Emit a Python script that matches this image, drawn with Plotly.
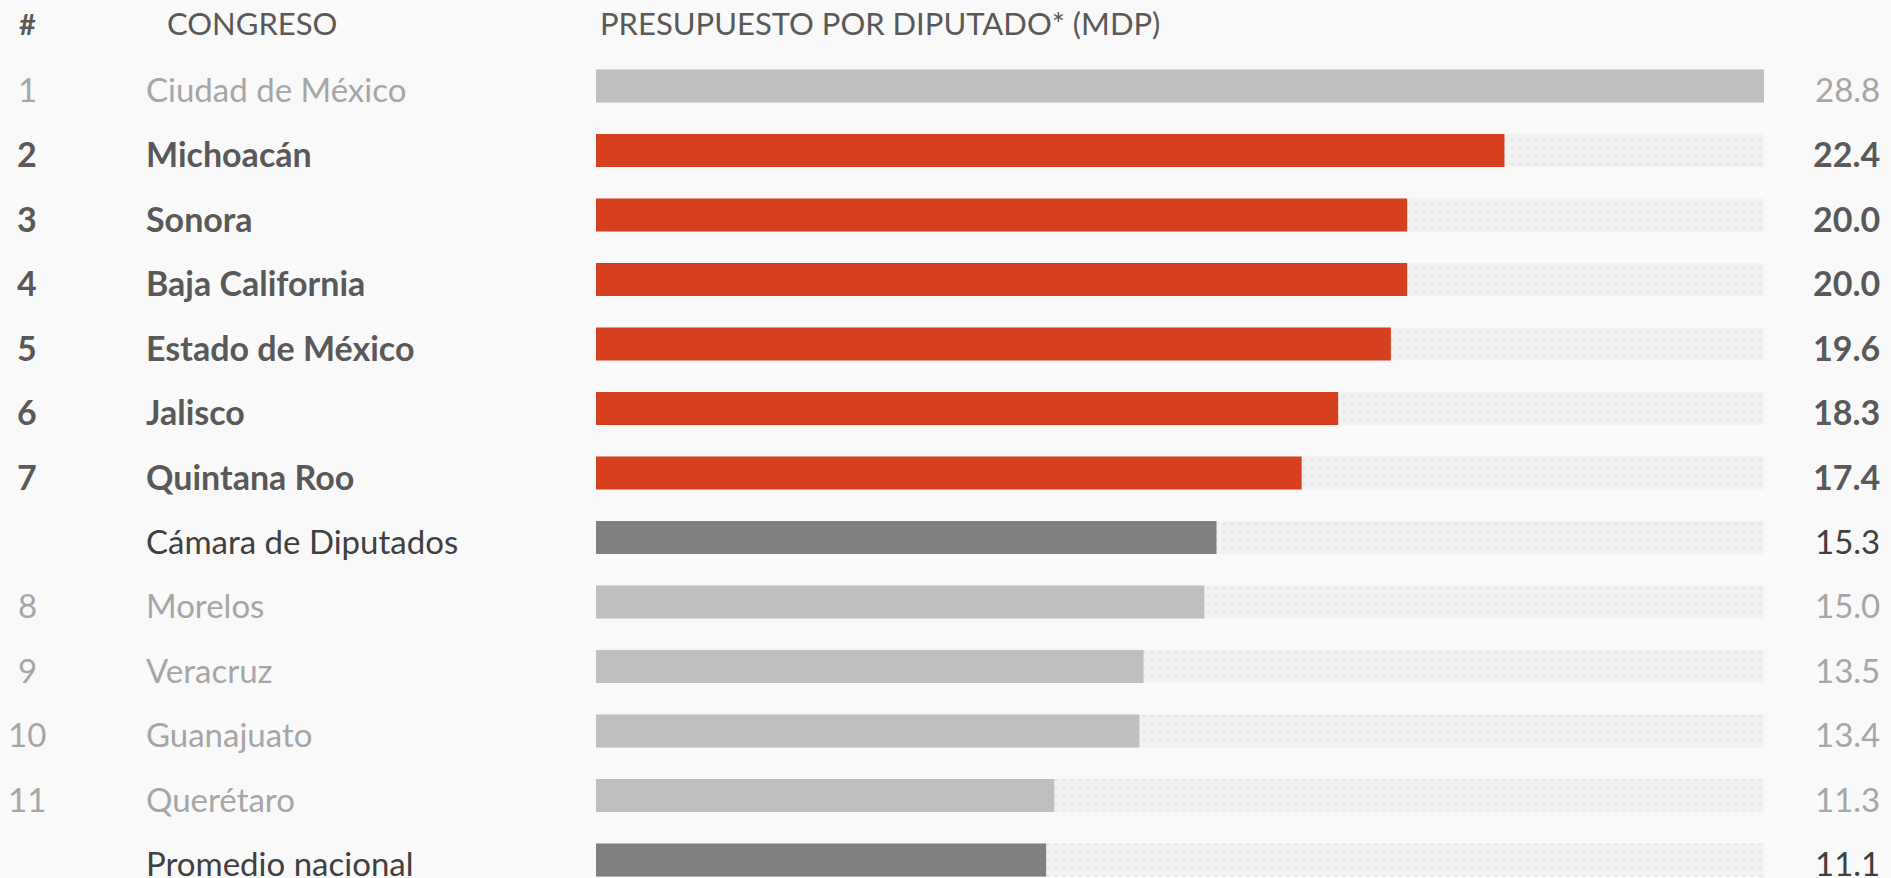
import plotly.graph_objects as go

ranks = ["1", "2", "3", "4", "5", "6", "7", "", "8", "9", "10", "11", ""]
names = ["Ciudad de México", "Michoacán", "Sonora", "Baja California", "Estado de México",
         "Jalisco", "Quintana Roo", "Cámara de Diputados", "Morelos", "Veracruz",
         "Guanajuato", "Querétaro", "Promedio nacional"]
values = [28.8, 22.4, 20.0, 20.0, 19.6, 18.3, 17.4, 15.3, 15.0, 13.5, 13.4, 11.3, 11.1]
groups = ["other", "top", "top", "top", "top", "top", "top", "ref", "other", "other", "other", "other", "ref"]
header_rank = "#"
header_name = "CONGRESO"
header_value = "PRESUPUESTO POR DIPUTADO* (MDP)"

bar_colors = {"top": "#d6401f", "other": "#bfbfbf", "ref": "#7f7f7f"}
text_colors = {"top": "#595959", "other": "#a6a6a6", "ref": "#404040"}
text_weights = {"top": "bold", "other": "normal", "ref": "normal"}
text_sizes = {"top": 34, "other": 33, "ref": 33}

FONT = "Lato"
W, H = 1891, 878
rows = list(range(len(names)))
xmax = max(values)

fig = go.Figure()
fig.add_trace(go.Bar(
    y=rows, x=[xmax] * len(rows), orientation="h", width=0.51,
    marker=dict(color="#f2f2f2", line=dict(width=0),
                pattern=dict(shape=".", fgcolor="#d6d6d6", bgcolor="#f2f2f2", size=8, solidity=0.12)),
    hoverinfo="skip", showlegend=False))
fig.add_trace(go.Bar(
    y=rows, x=values, orientation="h", width=0.51,
    marker=dict(color=[bar_colors[g] for g in groups], line=dict(width=0)),
    showlegend=False))

ann = []
x0 = 596 / W
x1 = 1764 / W
for i, (r, n, v, g) in enumerate(zip(ranks, names, values, groups)):
    f = dict(family=FONT, size=text_sizes[g], color=text_colors[g], weight=text_weights[g])
    common = dict(y=i, xref="paper", yref="y", showarrow=False, yanchor="middle", yshift=-3, font=f)
    if r:
        ann.append(dict(x=27 / W, text=r, xanchor="center", **common))
    ann.append(dict(x=144 / W, text=n, xanchor="left", **common))
    ann.append(dict(x=1882 / W, text=f"{v:.1f}", xanchor="right", **common))

hf = dict(family=FONT, size=31, color="#595959")
hy = -0.97
ann.append(dict(x=27 / W, y=hy, xref="paper", yref="y", text=header_rank, showarrow=False,
                xanchor="center", yanchor="middle", font=dict(family=FONT, size=29, color="#595959", weight="bold")))
ann.append(dict(x=165 / W, y=hy, xref="paper", yref="y", text=header_name, showarrow=False,
                xanchor="left", yanchor="middle", font=hf))
ann.append(dict(x=598 / W, y=hy, xref="paper", yref="y", text=header_value, showarrow=False,
                xanchor="left", yanchor="middle", font=hf))

row_px = 64.5
top_px = 86
y_top = -top_px / row_px
y_bot = (H - top_px) / row_px

fig.update_layout(
    width=W, height=H, margin=dict(l=0, r=0, t=0, b=0),
    paper_bgcolor="#f9f9f9", plot_bgcolor="#f9f9f9",
    barmode="overlay", annotations=ann,
    xaxis=dict(domain=[x0, x1], range=[0, xmax], visible=False, fixedrange=True),
    yaxis=dict(range=[y_bot, y_top], visible=False, fixedrange=True),
)
fig.write_html("out.html", config={"displayModeBar": False},
               post_script="document.body.style.margin='0';document.body.style.overflow='hidden';document.body.style.background='#f9f9f9';")
